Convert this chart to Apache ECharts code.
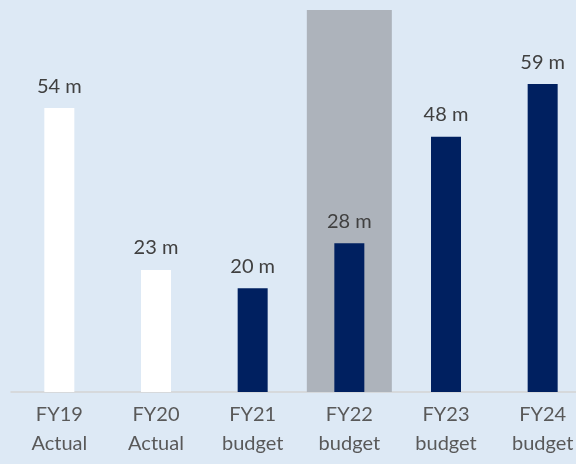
<!DOCTYPE html>
<html>
<head>
<meta charset="utf-8">
<script src="https://cdn.jsdelivr.net/npm/echarts@6/dist/echarts.min.js"></script>
<style>
  html, body { margin: 0; padding: 0; background: #dde9f5; overflow: hidden; }
</style>
</head>
<body>
<!-- chart runs past the right edge, like the cropped original -->
<div id="chart" style="width:600px;height:464px"></div>
<script>
// data
const categories = ['FY19\nActual', 'FY20\nActual', 'FY21\nbudget', 'FY22\nbudget', 'FY23\nbudget', 'FY24\nbudget']
const values = [54.4, 23.4, 19.9, 28.5, 48.9, 59]
const valueLabels = ['54 m', '23 m', '20 m', '28 m', '48 m', '59 m']
const highlight = [null, null, null, 73.2, null, null]
const yMax = 73.2

const barColors = ['#ffffff', '#ffffff', '#002060', '#002060', '#002060', '#002060']

const myChart = echarts.init(document.getElementById('chart'))
myChart.setOption({
  backgroundColor: '#dde9f5',
  animation: false,
  grid: { left: 11, width: 580, top: 10, bottom: 72 },
  xAxis: [
    {
      type: 'category',
      data: categories,
      axisTick: { show: false },
      axisLine: { lineStyle: { color: '#d4d4d4', width: 1.5 } },
      axisLabel: {
        color: '#595959',
        fontFamily: 'Lato',
        fontSize: 20,
        lineHeight: 29,
        margin: 8,
        interval: 0
      }
    },
    {
      // hidden twin axis so the highlight centres on its own
      type: 'category',
      data: categories,
      show: false
    }
  ],
  yAxis: {
    type: 'value',
    min: 0,
    max: yMax,
    show: false,
    splitLine: { show: false }
  },
  series: [
    {
      // gray highlight behind FY22
      type: 'bar',
      xAxisIndex: 1,
      data: highlight,
      barWidth: 85,
      itemStyle: { color: '#adb3bb' },
      silent: true,
      z: 1
    },
    {
      type: 'bar',
      xAxisIndex: 0,
      data: values.map((v, i) => ({ value: v, itemStyle: { color: barColors[i] } })),
      barWidth: 30,
      z: 2,
      label: {
        show: true,
        position: 'top',
        distance: 12,
        color: '#404040',
        fontFamily: 'Lato',
        fontSize: 20,
        formatter: p => valueLabels[p.dataIndex]
      }
    }
  ]
})
</script>
</body>
</html>
